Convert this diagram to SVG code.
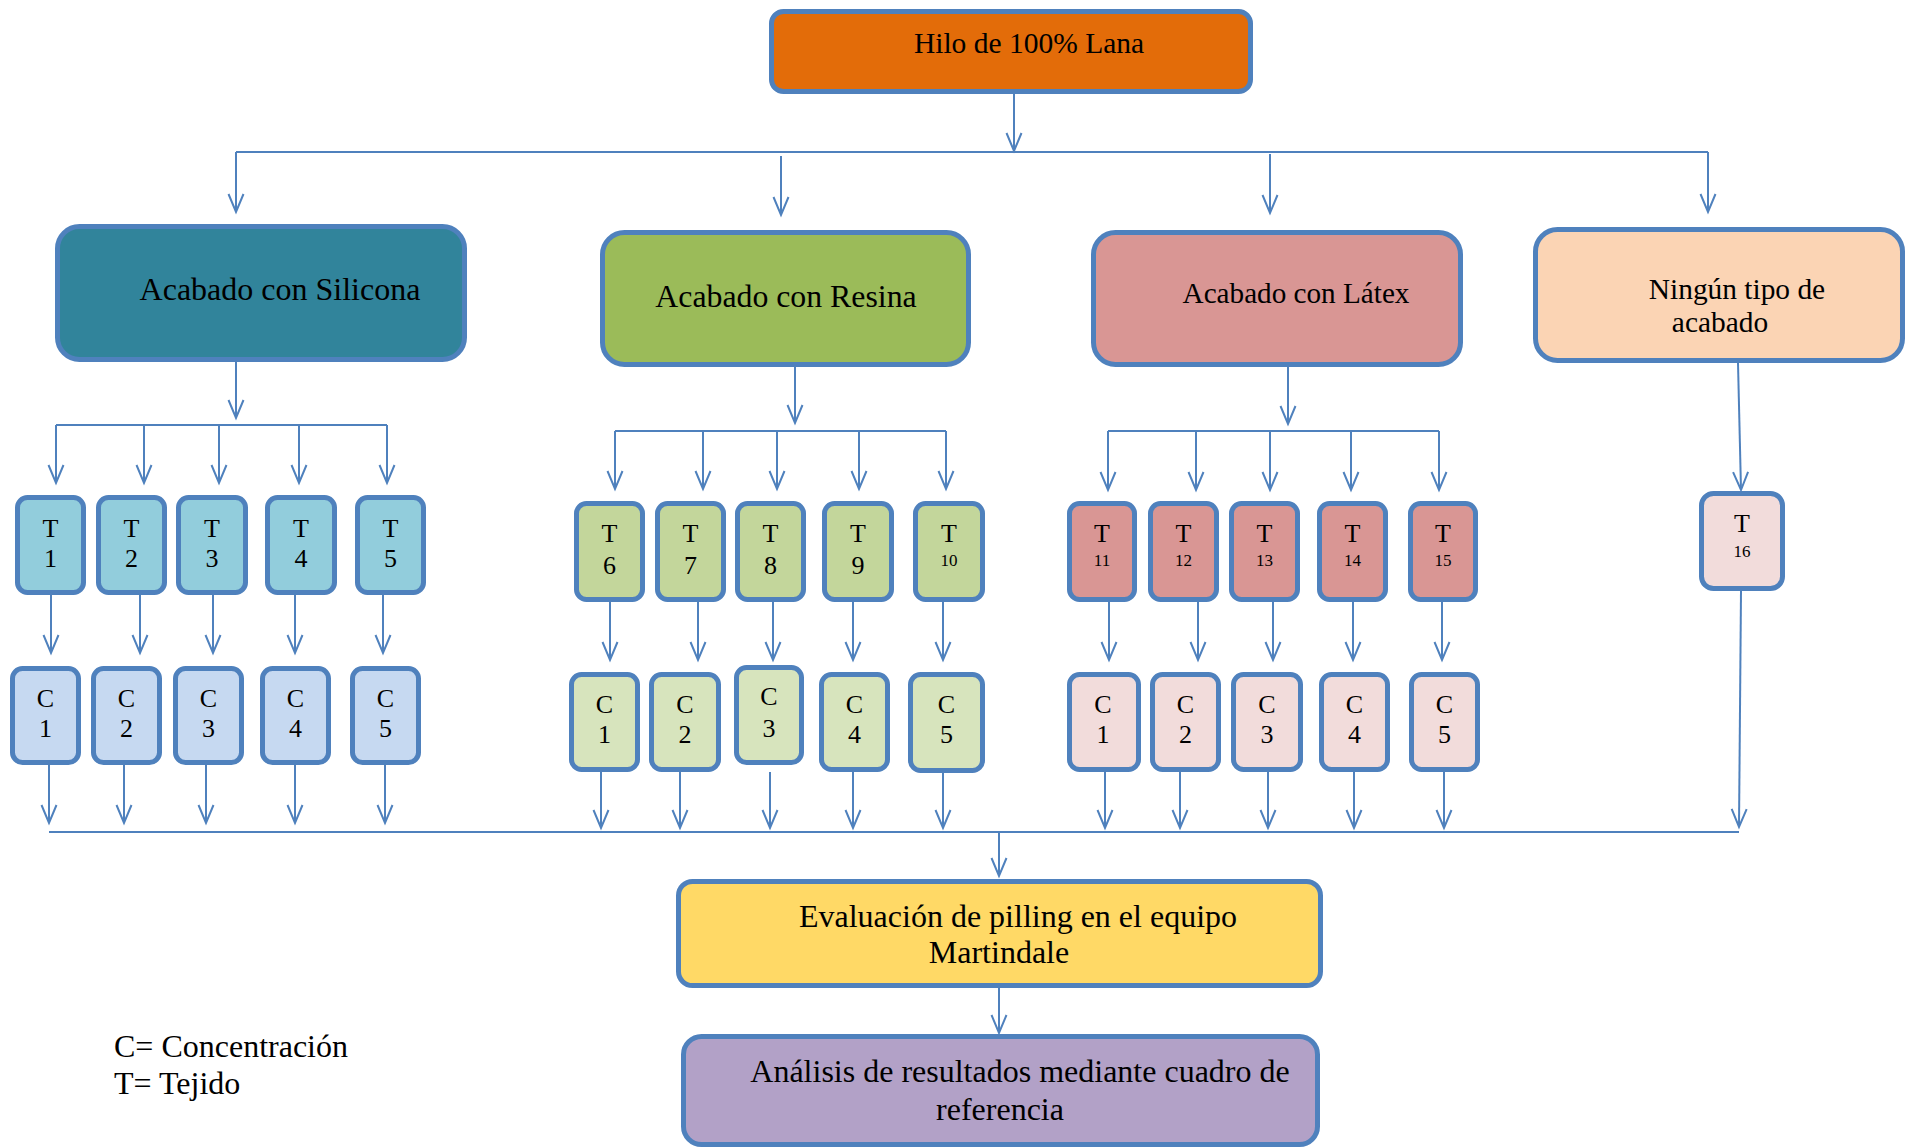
<svg xmlns="http://www.w3.org/2000/svg" width="1916" height="1147" viewBox="0 0 1916 1147">
<style>
text{font-family:"Liberation Serif","Times New Roman",serif;fill:#000;text-anchor:middle}
.box{stroke:#4F81BD;stroke-width:5}
.lbl{font-size:26px}
.sm{font-size:17px}
.c{fill:none;stroke:#4F81BD;stroke-width:2}
.a{marker-end:url(#arr)}
</style>
<defs>
<marker id="arr" markerUnits="userSpaceOnUse" viewBox="-20 -10 22 20" refX="0" refY="0" markerWidth="22" markerHeight="20" orient="auto" overflow="visible">
<path d="M-18,-7.5 L0,0 L-18,7.5" fill="none" stroke="#4F81BD" stroke-width="2"/>
</marker>
</defs>
<g id="connectors">
<path class="c a" d="M1014,94 V151"/>
<path class="c" d="M236,152 H1708"/>
<path class="c a" d="M236,152 V212"/>
<path class="c a" d="M781,156 V215"/>
<path class="c a" d="M1270,154 V213"/>
<path class="c a" d="M1708,152 V212"/>
<path class="c a" d="M236,362 V418"/>
<path class="c" d="M56,425 H387"/>
<path class="c a" d="M56,425 V483"/><path class="c a" d="M144,425 V483"/><path class="c a" d="M219,425 V483"/><path class="c a" d="M299,425 V483"/><path class="c a" d="M387,425 V483"/>
<path class="c a" d="M795,367 V423"/>
<path class="c" d="M615,431 H946"/>
<path class="c a" d="M615,431 V489"/><path class="c a" d="M703,431 V489"/><path class="c a" d="M777,431 V489"/><path class="c a" d="M859,431 V489"/><path class="c a" d="M946,431 V489"/>
<path class="c a" d="M1288,367 V424"/>
<path class="c" d="M1108,431 H1439"/>
<path class="c a" d="M1108,431 V490"/><path class="c a" d="M1196,431 V490"/><path class="c a" d="M1270,431 V490"/><path class="c a" d="M1351,431 V490"/><path class="c a" d="M1439,431 V490"/>
<path class="c a" d="M51,595 V653"/><path class="c a" d="M140,595 V653"/><path class="c a" d="M213,595 V653"/><path class="c a" d="M295,595 V653"/><path class="c a" d="M383,595 V653"/>
<path class="c a" d="M610,602 V660"/><path class="c a" d="M698,602 V660"/><path class="c a" d="M773,602 V660"/><path class="c a" d="M853,602 V660"/><path class="c a" d="M943,602 V660"/>
<path class="c a" d="M1109,602 V660"/><path class="c a" d="M1198,602 V660"/><path class="c a" d="M1273,602 V660"/><path class="c a" d="M1353,602 V660"/><path class="c a" d="M1442,602 V660"/>
<path class="c a" d="M49,765 V823"/><path class="c a" d="M124,765 V823"/><path class="c a" d="M206,765 V823"/><path class="c a" d="M295,765 V823"/><path class="c a" d="M385,765 V823"/>
<path class="c a" d="M601,772 V828"/><path class="c a" d="M680,772 V828"/><path class="c a" d="M770,772 V828"/><path class="c a" d="M853,767 V828"/><path class="c a" d="M943,772 V828"/>
<path class="c a" d="M1105,767 V828"/><path class="c a" d="M1180,772 V828"/><path class="c a" d="M1268,772 V828"/><path class="c a" d="M1354,772 V828"/><path class="c a" d="M1444,772 V828"/>
<path class="c a" d="M1738,363 L1741,490"/>
<path class="c a" d="M1741,591 L1739,827"/>
<path class="c" d="M49,832 H1739"/>
<path class="c a" d="M999,832 V876"/>
<path class="c a" d="M999,988 V1033"/>
</g>
<g id="hilo"><rect class="box" x="771.5" y="11.5" width="479" height="80" rx="12" fill="#E36C09"/><text x="1029" y="53" font-size="29.5">Hilo de 100% Lana</text></g>
<g id="silicona"><rect class="box" x="57.5" y="226.5" width="407" height="133" rx="22" fill="#31849B"/><text x="280" y="300" font-size="32">Acabado con Silicona</text></g>
<g id="resina"><rect class="box" x="602.5" y="232.5" width="366" height="132" rx="22" fill="#9BBB59"/><text x="786" y="307" font-size="31.8">Acabado con Resina</text></g>
<g id="latex"><rect class="box" x="1093.5" y="232.5" width="367" height="132" rx="22" fill="#D99694"/><text x="1296" y="303" font-size="29.2">Acabado con Látex</text></g>
<g id="ninguno"><rect class="box" x="1535.5" y="229.5" width="367" height="131" rx="22" fill="#FBD4B4"/><text x="1737" y="299" font-size="29.4">Ningún tipo de</text><text x="1720" y="332" font-size="29.4">acabado</text></g>
<g id="t1"><rect class="box" x="17.5" y="497.5" width="66" height="95" rx="10" fill="#92CDDC"/><text class="lbl" x="50.5" y="537">T</text><text class="lbl" x="50.5" y="567">1</text></g>
<g id="t2"><rect class="box" x="98.5" y="497.5" width="66" height="95" rx="10" fill="#92CDDC"/><text class="lbl" x="131.5" y="537">T</text><text class="lbl" x="131.5" y="567">2</text></g>
<g id="t3"><rect class="box" x="178.5" y="497.5" width="67" height="95" rx="10" fill="#92CDDC"/><text class="lbl" x="212" y="537">T</text><text class="lbl" x="212" y="567">3</text></g>
<g id="t4"><rect class="box" x="267.5" y="497.5" width="67" height="95" rx="10" fill="#92CDDC"/><text class="lbl" x="301" y="537">T</text><text class="lbl" x="301" y="567">4</text></g>
<g id="t5"><rect class="box" x="357.5" y="497.5" width="66" height="95" rx="10" fill="#92CDDC"/><text class="lbl" x="390.5" y="537">T</text><text class="lbl" x="390.5" y="567">5</text></g>
<g id="s-c1"><rect class="box" x="12.5" y="668.5" width="66" height="94" rx="10" fill="#C6D9F1"/><text class="lbl" x="45.5" y="707">C</text><text class="lbl" x="45.5" y="737">1</text></g>
<g id="s-c2"><rect class="box" x="93.5" y="668.5" width="66" height="94" rx="10" fill="#C6D9F1"/><text class="lbl" x="126.5" y="707">C</text><text class="lbl" x="126.5" y="737">2</text></g>
<g id="s-c3"><rect class="box" x="175.5" y="668.5" width="66" height="94" rx="10" fill="#C6D9F1"/><text class="lbl" x="208.5" y="707">C</text><text class="lbl" x="208.5" y="737">3</text></g>
<g id="s-c4"><rect class="box" x="262.5" y="668.5" width="66" height="94" rx="10" fill="#C6D9F1"/><text class="lbl" x="295.5" y="707">C</text><text class="lbl" x="295.5" y="737">4</text></g>
<g id="s-c5"><rect class="box" x="352.5" y="668.5" width="66" height="94" rx="10" fill="#C6D9F1"/><text class="lbl" x="385.5" y="707">C</text><text class="lbl" x="385.5" y="737">5</text></g>
<g id="t6"><rect class="box" x="576.5" y="503.5" width="66" height="96" rx="10" fill="#C3D69B"/><text class="lbl" x="609.5" y="542">T</text><text class="lbl" x="609.5" y="574">6</text></g>
<g id="t7"><rect class="box" x="657.5" y="503.5" width="66" height="96" rx="10" fill="#C3D69B"/><text class="lbl" x="690.5" y="542">T</text><text class="lbl" x="690.5" y="574">7</text></g>
<g id="t8"><rect class="box" x="737.5" y="503.5" width="66" height="96" rx="10" fill="#C3D69B"/><text class="lbl" x="770.5" y="542">T</text><text class="lbl" x="770.5" y="574">8</text></g>
<g id="t9"><rect class="box" x="824.5" y="503.5" width="67" height="96" rx="10" fill="#C3D69B"/><text class="lbl" x="858" y="542">T</text><text class="lbl" x="858" y="574">9</text></g>
<g id="t10"><rect class="box" x="915.5" y="503.5" width="67" height="96" rx="10" fill="#C3D69B"/><text class="lbl" x="949" y="542">T</text><text class="sm" x="949" y="566">10</text></g>
<g id="r-c1"><rect class="box" x="571.5" y="674.5" width="66" height="95" rx="10" fill="#D7E4BD"/><text class="lbl" x="604.5" y="713">C</text><text class="lbl" x="604.5" y="743">1</text></g>
<g id="r-c2"><rect class="box" x="651.5" y="674.5" width="67" height="95" rx="10" fill="#D7E4BD"/><text class="lbl" x="685" y="713">C</text><text class="lbl" x="685" y="743">2</text></g>
<g id="r-c3"><rect class="box" x="736.5" y="667.5" width="65" height="95" rx="10" fill="#D7E4BD"/><text class="lbl" x="769" y="705">C</text><text class="lbl" x="769" y="737">3</text></g>
<g id="r-c4"><rect class="box" x="821.5" y="674.5" width="66" height="95" rx="10" fill="#D7E4BD"/><text class="lbl" x="854.5" y="713">C</text><text class="lbl" x="854.5" y="743">4</text></g>
<g id="r-c5"><rect class="box" x="910.5" y="674.5" width="72" height="96" rx="10" fill="#D7E4BD"/><text class="lbl" x="946.5" y="713">C</text><text class="lbl" x="946.5" y="743">5</text></g>
<g id="t11"><rect class="box" x="1069.5" y="503.5" width="65" height="96" rx="10" fill="#D99694"/><text class="lbl" x="1102" y="542">T</text><text class="sm" x="1102" y="566">11</text></g>
<g id="t12"><rect class="box" x="1150.5" y="503.5" width="66" height="96" rx="10" fill="#D99694"/><text class="lbl" x="1183.5" y="542">T</text><text class="sm" x="1183.5" y="566">12</text></g>
<g id="t13"><rect class="box" x="1231.5" y="503.5" width="66" height="96" rx="10" fill="#D99694"/><text class="lbl" x="1264.5" y="542">T</text><text class="sm" x="1264.5" y="566">13</text></g>
<g id="t14"><rect class="box" x="1319.5" y="503.5" width="66" height="96" rx="10" fill="#D99694"/><text class="lbl" x="1352.5" y="542">T</text><text class="sm" x="1352.5" y="566">14</text></g>
<g id="t15"><rect class="box" x="1410.5" y="503.5" width="65" height="96" rx="10" fill="#D99694"/><text class="lbl" x="1443" y="542">T</text><text class="sm" x="1443" y="566">15</text></g>
<g id="l-c1"><rect class="box" x="1069.5" y="674.5" width="69" height="95" rx="10" fill="#F2DCDB"/><text class="lbl" x="1103" y="713">C</text><text class="lbl" x="1103" y="743">1</text></g>
<g id="l-c2"><rect class="box" x="1152.5" y="674.5" width="66" height="95" rx="10" fill="#F2DCDB"/><text class="lbl" x="1185.5" y="713">C</text><text class="lbl" x="1185.5" y="743">2</text></g>
<g id="l-c3"><rect class="box" x="1233.5" y="674.5" width="67" height="95" rx="10" fill="#F2DCDB"/><text class="lbl" x="1267" y="713">C</text><text class="lbl" x="1267" y="743">3</text></g>
<g id="l-c4"><rect class="box" x="1321.5" y="674.5" width="66" height="95" rx="10" fill="#F2DCDB"/><text class="lbl" x="1354.5" y="713">C</text><text class="lbl" x="1354.5" y="743">4</text></g>
<g id="l-c5"><rect class="box" x="1411.5" y="674.5" width="66" height="95" rx="10" fill="#F2DCDB"/><text class="lbl" x="1444.5" y="713">C</text><text class="lbl" x="1444.5" y="743">5</text></g>
<g id="t16"><rect class="box" x="1701.5" y="493.5" width="81" height="95" rx="12" fill="#F2DCDB"/><text class="lbl" x="1742" y="532">T</text><text class="sm" x="1742" y="557">16</text></g>
<g id="evaluacion"><rect class="box" x="678.5" y="881.5" width="642" height="104" rx="14" fill="#FFD966"/><text x="1018" y="927" font-size="32">Evaluación de pilling en el equipo</text><text x="999" y="963" font-size="32">Martindale</text></g>
<g id="analisis"><rect class="box" x="683.5" y="1036.5" width="634" height="108" rx="18" fill="#B2A1C7"/><text x="1020" y="1082" font-size="32">Análisis de resultados mediante cuadro de</text><text x="1000" y="1120" font-size="32">referencia</text></g>
<g id="leyenda"><text x="114" y="1057" font-size="32" style="text-anchor:start">C= Concentración</text><text x="114" y="1094" font-size="32" style="text-anchor:start">T= Tejido</text></g>
</svg>
